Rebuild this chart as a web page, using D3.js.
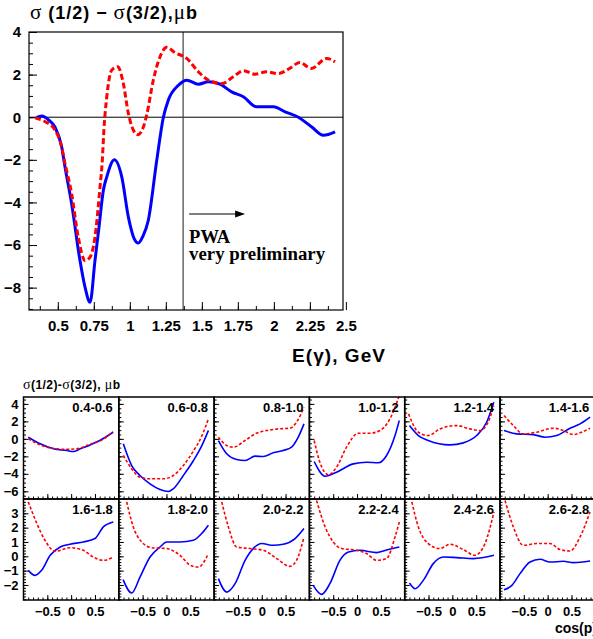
<!DOCTYPE html>
<html>
<head>
<meta charset="utf-8">
<script src="https://cdn.jsdelivr.net/npm/d3@7"></script>
<style>
    body { margin: 0; background: #fff; }
    svg { display: block; }
    text { font-family: "Liberation Sans", Arial, Helvetica, sans-serif; font-weight: bold; fill: #000; }
    .serif { font-family: "Liberation Serif", "Times New Roman", serif; }
    .greek { font-family: "Liberation Serif", "Times New Roman", serif; font-weight: normal; }
</style>
</head>
<body>
<script>
// --- top chart: sigma(1/2) - sigma(3/2) vs photon energy (GeV)
var blueEnergy = [0.353, 0.388, 0.44, 0.48, 0.527, 0.55, 0.596, 0.654, 0.689, 0.724, 0.758, 0.786, 0.816, 0.84, 0.893,
    0.944, 0.99, 1.03, 1.059, 1.09, 1.128, 1.187, 1.233, 1.267, 1.337, 1.395, 1.476, 1.545, 1.626, 1.707, 1.788,
    1.88, 1.997, 2.078, 2.17, 2.263, 2.344, 2.425];
var blueSigma = [-0.01, 0.06, -0.15, -0.46, -1.4, -2.34, -4.06, -6.73, -7.98, -8.69, -6.73, -5.16, -3.44, -2.8, -2.0,
    -2.8, -4.69, -5.7, -5.91, -5.6, -4.85, -2.02, 0, 0.8, 1.5, 1.74, 1.55, 1.66, 1.55, 1.19, 0.96,
    0.49, 0.49, 0.25, 0, -0.46, -0.85, -0.69];
var redEnergy = [0.342, 0.41, 0.48, 0.527, 0.545, 0.596, 0.642, 0.689, 0.724, 0.758, 0.793, 0.809, 0.82, 0.84, 0.874,
    0.916, 0.955, 0.99, 1.024, 1.055, 1.094, 1.117, 1.163, 1.21, 1.256, 1.314, 1.395, 1.476, 1.545, 1.638, 1.719,
    1.788, 1.869, 1.95, 2.03, 2.11, 2.18, 2.26, 2.367, 2.425];
var redSigma = [-0.03, -0.2, -0.6, -1.4, -2.02, -3.59, -5.63, -6.73, -6.57, -5.63, -3.28, -2.02, -0.6, 0.96, 2.21,
    2.37, 1.58, 0.17, -0.6, -0.82, -0.46, 0.1, 1.74, 2.84, 3.28, 3.03, 2.76, 2.13, 1.74, 1.58, 1.9,
    2.18, 2.02, 2.13, 2.05, 2.29, 2.57, 2.29, 2.76, 2.6];
var energyTicks = [0.5, 0.75, 1, 1.25, 1.5, 1.75, 2, 2.25, 2.5];
var energyTickLabels = ['0.5', '0.75', '1', '1.25', '1.5', '1.75', '2', '2.25', '2.5'];
var sigmaTicks = [4, 2, 0, -2, -4, -6, -8];
var pwaEnergy = 1.37;

// --- small panels: sigma(1/2) - sigma(3/2) vs cos, one panel per energy bin
var binLabels = ['0.4-0.6', '0.6-0.8', '0.8-1.0', '1.0-1.2', '1.2-1.4', '1.4-1.6',
    '1.6-1.8', '1.8-2.0', '2.0-2.2', '2.2-2.4', '2.4-2.6', '2.6-2.8'];
var blueCurves = [
    [[-0.9, 0.19], [-0.65, -0.57], [-0.37, -1.14], [-0.09, -1.33], [0.045, -1.45], [0.19, -1.14], [0.4, -0.69], [0.6, -0.19], [0.88, 0.76]],
    [[-0.905, -0.57], [-0.73, -3.05], [-0.555, -4.19], [-0.345, -5.14], [-0.135, -5.79], [0.04, -6.02], [0.144, -5.71], [0.354, -4.19], [0.564, -2.5], [0.74, -0.8], [0.88, 0.95]],
    [[-0.91, -0.19], [-0.735, -1.71], [-0.526, -2.36], [-0.35, -2.47], [-0.14, -1.98], [0.03, -2.02], [0.24, -1.6], [0.45, -1.33], [0.627, -0.95], [0.766, 0.19], [0.886, 1.71]],
    [[-0.9, -2.59], [-0.67, -4.27], [-0.43, -3.81], [-0.08, -2.86], [0.2, -2.67], [0.446, -2.74], [0.62, -1.9], [0.797, 0.38], [0.886, 2.1]],
    [[-0.9, 1.52], [-0.714, 0.38], [-0.505, -0.19], [-0.05, -0.69], [0.23, -0.46], [0.51, 0.38], [0.72, 1.9], [0.87, 4.19]],
    [[-0.916, 0.95], [-0.65, 0.57], [-0.3, 0.49], [-0.056, 0.19], [0.19, 0.38], [0.47, 1.22], [0.68, 1.71], [0.89, 2.48]],
    [[-0.9, -0.98], [-0.76, -1.33], [-0.62, -0.98], [-0.44, 0.07], [-0.23, 0.65], [-0.024, 0.84], [0.255, 1.0], [0.5, 1.24], [0.675, 2.05], [0.885, 2.4]],
    [[-0.91, -1.63], [-0.73, -2.56], [-0.555, -1.45], [-0.345, -0.05], [-0.135, 0.65], [0.005, 1.0], [0.284, 1.0], [0.564, 1.12], [0.74, 1.59], [0.88, 2.17]],
    [[-0.91, -1.56], [-0.735, -2.5], [-0.56, -1.91], [-0.35, -0.28], [-0.18, 0.54], [0.0, 0.89], [0.24, 0.77], [0.45, 0.84], [0.7, 1.24], [0.886, 1.94]],
    [[-0.92, -2.03], [-0.745, -2.66], [-0.57, -1.91], [-0.36, -0.28], [-0.18, 0.3], [0.06, 0.42], [0.41, 0.26], [0.656, 0.47], [0.887, 0.65]],
    [[-0.9, -1.86], [-0.78, -2.26], [-0.61, -1.68], [-0.4, -0.51], [-0.19, -0.05], [0.09, -0.09], [0.44, -0.16], [0.874, 0.07]],
    [[-0.916, -2.33], [-0.75, -2.03], [-0.58, -1.21], [-0.37, -0.4], [-0.16, -0.21], [0.05, -0.4], [0.33, -0.35], [0.54, -0.44], [0.89, -0.33]]
];
var redCurves = [
    [[-0.9, 0.0], [-0.65, -0.69], [-0.37, -1.1], [-0.09, -1.2], [0.12, -1.14], [0.4, -0.6], [0.6, -0.25], [0.88, 0.8]],
    [[-0.905, -1.9], [-0.73, -3.43], [-0.555, -4.38], [-0.345, -4.57], [-0.066, -4.57], [0.144, -4.19], [0.354, -3.05], [0.564, -1.4], [0.74, 0.3], [0.88, 2.29]],
    [[-0.91, 0.19], [-0.735, -0.76], [-0.6, -0.95], [-0.35, -0.19], [-0.14, 0.57], [0.1, 0.95], [0.346, 1.14], [0.59, 1.22], [0.73, 1.9], [0.886, 3.62]],
    [[-0.9, -0.19], [-0.78, -2.67], [-0.6, -4.11], [-0.43, -3.24], [-0.22, -0.95], [0.026, 0.65], [0.27, 0.65], [0.48, 0.95], [0.69, 2.29], [0.886, 4.95]],
    [[-0.92, 2.86], [-0.714, 0.76], [-0.505, 0.38], [-0.26, 1.14], [0.09, 1.52], [0.37, 1.14], [0.58, 0.95], [0.75, 1.9], [0.87, 3.8]],
    [[-0.916, 2.67], [-0.72, 1.52], [-0.51, 0.57], [-0.23, 0.76], [0.12, 1.22], [0.33, 0.95], [0.54, 0.49], [0.71, 0.76], [0.89, 1.22]],
    [[-0.9, 3.8], [-0.72, 2.29], [-0.55, 1.12], [-0.34, 0.35], [-0.024, 0.6], [0.255, 0.42], [0.465, -0.05], [0.675, -0.28], [0.885, -0.05]],
    [[-0.834, 3.8], [-0.696, 2.05], [-0.52, 1.0], [-0.31, 0.6], [0.005, 0.54], [0.284, 0.07], [0.5, -0.63], [0.67, -0.75], [0.88, 0.19]],
    [[-0.84, 3.8], [-0.7, 2.05], [-0.526, 0.65], [-0.246, 0.54], [0.034, 0.42], [0.313, -0.16], [0.59, -0.7], [0.73, -0.28], [0.886, 1.35]],
    [[-0.85, 3.9], [-0.67, 2.05], [-0.5, 1.0], [-0.32, 0.54], [-0.007, 0.42], [0.2, 0.19], [0.41, -0.28], [0.62, -0.16], [0.797, 1.35], [0.887, 2.4]],
    [[-0.85, 3.8], [-0.714, 2.05], [-0.505, 0.89], [-0.26, 0.54], [-0.05, 0.84], [0.23, 0.47], [0.475, 0.07], [0.685, 0.89], [0.874, 3.1]],
    [[-0.895, 3.9], [-0.72, 2.05], [-0.51, 0.77], [-0.23, 0.89], [0.05, 0.89], [0.26, 0.47], [0.47, 0.37], [0.68, 1.35], [0.89, 3.1]]
];
var rowSigmaTicks = [[4, 2, 0, -2, -4, -6], [3, 2, 1, 0, -1, -2]];
var cosTicks = [-0.5, 0, 0.5];

(function(d3) {
    'use strict';

    var settings = {
        width: 593,
        height: 639,
        top: { left: 29, right: 343, top: 32, bottom: 310 },
        panelLeft: 23.5,
        panelWidth: 95.3,
        rowEdges: [397, 499, 600],
        rowDomains: [[-6.88, 4.79], [-3.05, 4]],
        rowMinorStep: [0.5, 0.2],
        blue: '#0000ff',
        red: '#ff0000'
    };

    var svg = d3.select('body')
        .append('svg')
        .attr('width', settings.width)
        .attr('height', settings.height);

    function zip(xs, ys) {
        return xs.map(function(v, i) { return [v, ys[i]]; });
    }

    // ---------- top chart ----------
    var t = settings.top;
    var x = d3.scaleLinear().domain([0.3, 2.48]).range([t.left, t.right]);
    var y = d3.scaleLinear().domain([-9.05, 4]).range([t.bottom, t.top]);

    var top = svg.append('g');

    top.append('defs').append('clipPath').attr('id', 'clip-top')
        .append('rect')
        .attr('x', t.left).attr('y', t.top)
        .attr('width', t.right - t.left).attr('height', t.bottom - t.top);

    // minor ticks
    top.append('g')
        .attr('transform', 'translate(' + t.left + ',0)')
        .call(d3.axisLeft(y).tickValues(d3.range(-9, 4.01, 0.5)).tickSize(-4).tickFormat(''))
        .call(function(g) { g.select('.domain').remove(); });
    top.append('g')
        .attr('transform', 'translate(0,' + t.bottom + ')')
        .call(d3.axisBottom(x).tickValues(d3.range(0.375, 2.48, 0.125)).tickSize(-4).tickFormat(''))
        .call(function(g) { g.select('.domain').remove(); });

    // major ticks + labels
    top.append('g')
        .attr('transform', 'translate(' + t.left + ',0)')
        .style('font-size', '15px')
        .call(d3.axisLeft(y).tickValues(sigmaTicks).tickSize(-8).tickPadding(8)
            .tickFormat(function(d) { return d < 0 ? '\u2212' + (-d) : d; }))
        .call(function(g) {
            g.select('.domain').remove();
            g.selectAll('text').attr('font-family', null).attr('font-size', null);
        });
    top.append('g')
        .attr('transform', 'translate(0,' + t.bottom + ')')
        .style('font-size', '15px')
        .call(d3.axisBottom(x).tickValues(energyTicks).tickSize(-8).tickPadding(10)
            .tickFormat(function(d, i) { return energyTickLabels[i]; }))
        .call(function(g) {
            g.select('.domain').remove();
            g.selectAll('text').attr('font-family', null).attr('font-size', null);
        });

    top.append('line')
        .attr('x1', x(0.3)).attr('x2', x(2.48))
        .attr('y1', y(0)).attr('y2', y(0))
        .attr('stroke', '#000').attr('stroke-width', 1);

    top.append('line')
        .attr('x1', x(pwaEnergy)).attr('x2', x(pwaEnergy))
        .attr('y1', t.top).attr('y2', t.bottom)
        .attr('stroke', '#444').attr('stroke-width', 1.2);

    var topLine = d3.line()
        .x(function(d) { return x(d[0]); })
        .y(function(d) { return y(d[1]); })
        .curve(d3.curveMonotoneX);

    var curves = top.append('g').attr('clip-path', 'url(#clip-top)');
    curves.append('path')
        .datum(zip(blueEnergy, blueSigma))
        .attr('d', topLine)
        .attr('fill', 'none')
        .attr('stroke', settings.blue)
        .attr('stroke-width', 3)
        .attr('stroke-linejoin', 'round');
    curves.append('path')
        .datum(zip(redEnergy, redSigma))
        .attr('d', topLine)
        .attr('fill', 'none')
        .attr('stroke', settings.red)
        .attr('stroke-width', 3)
        .attr('stroke-dasharray', '6,3');

    top.append('rect')
        .attr('x', t.left).attr('y', t.top)
        .attr('width', t.right - t.left).attr('height', t.bottom - t.top)
        .attr('fill', 'none').attr('stroke', '#000').attr('stroke-width', 1.2);

    // arrow + PWA note
    var ax0 = x(pwaEnergy) + 6, ax1 = ax0 + 56, ay = 214;
    top.append('line')
        .attr('x1', ax0).attr('x2', ax1 - 8)
        .attr('y1', ay).attr('y2', ay)
        .attr('stroke', '#000').attr('stroke-width', 1.2);
    top.append('path')
        .attr('d', 'M' + ax1 + ',' + ay + 'l-10,-3.5v7z')
        .attr('fill', '#000');
    top.append('text').attr('class', 'serif')
        .attr('x', ax0).attr('y', 242.5)
        .style('font-size', '18.5px')
        .text('PWA');
    top.append('text').attr('class', 'serif')
        .attr('x', ax0).attr('y', 259.5)
        .attr('textLength', 136).attr('lengthAdjust', 'spacingAndGlyphs')
        .style('font-size', '18.5px')
        .text('very preliminary');

    // title: sigma(1/2) - sigma(3/2), mu b
    var title = top.append('text')
        .attr('x', 30).attr('y', 19)
        .attr('textLength', 167).attr('lengthAdjust', 'spacing')
        .style('font-size', '18px');
    title.append('tspan').attr('class', 'greek').style('font-size', '21px').text('\u03c3');
    title.append('tspan').text(' (1/2) \u2212 ');
    title.append('tspan').attr('class', 'greek').style('font-size', '21px').text('\u03c3');
    title.append('tspan').text('(3/2),');
    title.append('tspan').attr('class', 'greek').style('font-size', '21px').text('\u03bc');
    title.append('tspan').text('b');

    top.append('text')
        .attr('x', 292).attr('y', 361.5)
        .attr('textLength', 93).attr('lengthAdjust', 'spacing')
        .style('font-size', '19px')
        .text('E(\u03b3), GeV');

    // ---------- small panels ----------
    var px = d3.scaleLinear().domain([-1, 1]).range([0, settings.panelWidth]);

    binLabels.forEach(function(label, i) {
        var col = i % 6,
            row = Math.floor(i / 6),
            left = settings.panelLeft + col * settings.panelWidth,
            top0 = settings.rowEdges[row],
            bottom = settings.rowEdges[row + 1],
            dom = settings.rowDomains[row];

        var py = d3.scaleLinear().domain(dom).range([bottom - top0, 0]);
        var g = svg.append('g').attr('transform', 'translate(' + left + ',' + top0 + ')');

        g.append('defs').append('clipPath').attr('id', 'clip-' + i)
            .append('rect')
            .attr('width', settings.panelWidth).attr('height', bottom - top0);

        g.append('g')
            .call(d3.axisLeft(py)
                .tickValues(d3.range(Math.ceil(dom[0] / settings.rowMinorStep[row]) * settings.rowMinorStep[row], dom[1], settings.rowMinorStep[row]))
                .tickSize(-2.5).tickFormat(''))
            .call(function(s) { s.select('.domain').remove(); });
        g.append('g')
            .style('font-size', '13px')
            .call(d3.axisLeft(py).tickValues(rowSigmaTicks[row]).tickSize(-5).tickPadding(5)
                .tickFormat(col === 0 ? d3.format('d') : ''))
            .call(function(s) {
                s.select('.domain').remove();
                s.selectAll('text').attr('font-family', null).attr('font-size', null);
            });

        g.append('g')
            .attr('transform', 'translate(0,' + (bottom - top0) + ')')
            .call(d3.axisBottom(px).tickValues(d3.range(-0.9, 0.95, 0.1)).tickSize(-2.5).tickFormat(''))
            .call(function(s) { s.select('.domain').remove(); });
        g.append('g')
            .attr('transform', 'translate(0,' + (bottom - top0) + ')')
            .style('font-size', '13px')
            .call(d3.axisBottom(px).tickValues(cosTicks).tickSize(-5).tickPadding(7)
                .tickFormat(row === 1 ? d3.format('') : ''))
            .call(function(s) {
                s.select('.domain').remove();
                s.selectAll('text').attr('font-family', null).attr('font-size', null);
            });

        var line = d3.line()
            .x(function(d) { return px(d[0]); })
            .y(function(d) { return py(d[1]); })
            .curve(d3.curveMonotoneX);

        var c = g.append('g').attr('clip-path', 'url(#clip-' + i + ')');
        c.append('path')
            .datum(blueCurves[i])
            .attr('d', line)
            .attr('fill', 'none')
            .attr('stroke', settings.blue)
            .attr('stroke-width', 1.6);
        c.append('path')
            .datum(redCurves[i])
            .attr('d', line)
            .attr('fill', 'none')
            .attr('stroke', settings.red)
            .attr('stroke-width', 1.6)
            .attr('stroke-dasharray', '3,2');

        g.append('rect')
            .attr('width', settings.panelWidth).attr('height', bottom - top0)
            .attr('fill', 'none').attr('stroke', '#000').attr('stroke-width', 1.5);

        g.append('text')
            .attr('x', settings.panelWidth - 6).attr('y', 15)
            .attr('text-anchor', 'end')
            .style('font-size', '13px')
            .text(label);
    });

    var small = svg.append('text')
        .attr('x', 23).attr('y', 389)
        .attr('textLength', 97).attr('lengthAdjust', 'spacing')
        .style('font-size', '12px');
    small.append('tspan').attr('class', 'greek').style('font-size', '14px').text('\u03c3');
    small.append('tspan').text('(1/2)-');
    small.append('tspan').attr('class', 'greek').style('font-size', '14px').text('\u03c3');
    small.append('tspan').text('(3/2), ');
    small.append('tspan').attr('class', 'greek').style('font-size', '14px').text('\u03bc');
    small.append('tspan').text('b');

    svg.append('text')
        .attr('x', 555).attr('y', 633)
        .style('font-size', '14px')
        .text('cos(p)');

})(window.d3);
</script>
</body>
</html>
